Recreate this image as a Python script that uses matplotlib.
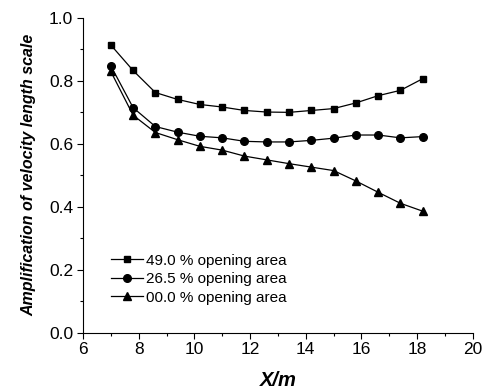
import numpy as np
import matplotlib
matplotlib.use('Agg')
import matplotlib.pyplot as plt
from matplotlib.ticker import MultipleLocator

plt.rcParams['font.family'] = ['Liberation Sans', 'DejaVu Sans']

# data
x = [7.0, 7.8, 8.6, 9.4, 10.2, 11.0, 11.8, 12.6, 13.4, 14.2, 15.0, 15.8, 16.6, 17.4, 18.2]
open_49 = [0.914, 0.833, 0.763, 0.741, 0.725, 0.717, 0.706, 0.701, 0.700, 0.706,
           0.712, 0.730, 0.753, 0.770, 0.807]
open_26 = [0.848, 0.715, 0.655, 0.637, 0.624, 0.619, 0.608, 0.606, 0.606, 0.611,
           0.618, 0.628, 0.628, 0.619, 0.623]
open_00 = [0.830, 0.691, 0.636, 0.613, 0.592, 0.580, 0.561, 0.549, 0.537, 0.526,
           0.515, 0.482, 0.446, 0.411, 0.386]
labels = ['49.0 % opening area', '26.5 % opening area', '00.0 % opening area']

fig = plt.figure(figsize=(4.88, 3.9), dpi=100)
ax = fig.add_axes([0.170, 0.147, 0.799, 0.807])

ax.plot(x, open_49, 'k-s', lw=0.9, ms=5, label=labels[0])
ax.plot(x, open_26, 'k-o', lw=0.9, ms=5.5, label=labels[1])
ax.plot(x, open_00, 'k-^', lw=0.9, ms=6, label=labels[2])

ax.set_xlim(6, 20)
ax.set_ylim(0, 1.0)
ax.xaxis.set_major_locator(MultipleLocator(2))
ax.xaxis.set_minor_locator(MultipleLocator(1))
ax.yaxis.set_major_locator(MultipleLocator(0.2))
ax.yaxis.set_minor_locator(MultipleLocator(0.1))
ax.yaxis.set_major_formatter(matplotlib.ticker.FormatStrFormatter('%.1f'))
ax.spines['top'].set_visible(False)
ax.spines['right'].set_visible(False)
ax.tick_params(which='both', direction='out', labelsize=12.5, width=0.8)
ax.tick_params(which='major', length=4, pad=3)
ax.tick_params(which='minor', length=2.5)

ax.set_xlabel('X/m', fontsize=14.5, fontweight='bold', style='italic', labelpad=10)
ax.set_ylabel('Amplification of velocity length scale', fontsize=11.5,
              fontweight='bold', style='italic', labelpad=9)

ax.legend(loc='upper left', bbox_to_anchor=(0.045, 0.285), frameon=False,
          fontsize=11, handlelength=2.1, handletextpad=0.2, labelspacing=0.3,
          borderpad=0.2)

fig.savefig('out.png', dpi=100)
